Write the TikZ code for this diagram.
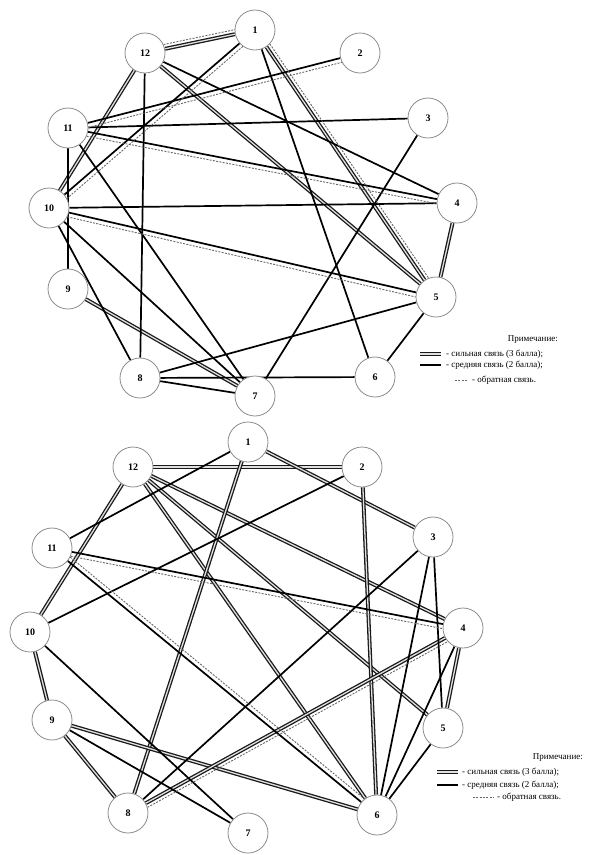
\documentclass[tikz,border=0pt]{standalone}
\usepackage{fontspec}
\setmainfont{Liberation Serif}
\usetikzlibrary{calc,backgrounds}
\newcommand\fbk[4]{\draw[fbline] ($(#1)!4.5pt!#3:(#2)$) -- ($(#2)!4.5pt!#4:(#1)$);}
\begin{document}
\begin{tikzpicture}[x=1pt,y=-1pt,
  vtx/.style={circle,draw=black!45,line width=0.8pt,fill=white,minimum size=40pt,inner sep=0pt,font=\fontsize{10}{10}\selectfont\bfseries},
  strong/.style={draw=black!90,line width=1.3pt,double=black!12,double distance=1.3pt},
  medium/.style={draw=black,line width=1.7pt},
  fbline/.style={draw=black!60,line width=0.9pt,dash pattern=on 2pt off 1.3pt},
  legtext/.style={font=\fontsize{9}{10}\selectfont,anchor=west,inner sep=0pt}
]
\useasboundingbox (0,0) rectangle (591,855);
% ---------- top graph nodes ----------
\node[vtx] (t1)  at (255,30)  {1};
\node[vtx] (t2)  at (360,53)  {2};
\node[vtx] (t3)  at (428,118) {3};
\node[vtx] (t4)  at (457,203) {4};
\node[vtx] (t5)  at (436,297) {5};
\node[vtx] (t6)  at (375,377) {6};
\node[vtx] (t7)  at (255,396) {7};
\node[vtx] (t8)  at (140,378) {8};
\node[vtx] (t9)  at (68,289)  {9};
\node[vtx] (t10) at (49,208)  {10};
\node[vtx] (t11) at (68,128)  {11};
\node[vtx] (t12) at (145,53)  {12};
% ---------- bottom graph nodes ----------
\node[vtx] (b1)  at (248,442) {1};
\node[vtx] (b2)  at (362,467) {2};
\node[vtx] (b3)  at (433,537) {3};
\node[vtx] (b4)  at (463,628) {4};
\node[vtx] (b5)  at (443,728) {5};
\node[vtx] (b6)  at (377,815) {6};
\node[vtx] (b7)  at (248,833) {7};
\node[vtx] (b8)  at (128,813) {8};
\node[vtx] (b9)  at (52,720)  {9};
\node[vtx] (b10) at (30,632)  {10};
\node[vtx] (b11) at (52,548)  {11};
\node[vtx] (b12) at (133,467) {12};
\begin{scope}[on background layer]
% top: strong
\foreach \a/\b in {t12/t1,t12/t10,t12/t5,t1/t5,t4/t5,t9/t7}
  \draw[strong] (\a) -- (\b);
% top: medium
\foreach \a/\b in {t12/t8,t12/t4,t1/t10,t1/t6,t11/t2,t11/t3,t11/t4,t11/t7,t11/t9,t10/t4,t10/t5,t10/t7,t10/t8,t3/t7,t8/t5,t8/t6,t8/t7,t5/t6}
  \draw[medium] (\a) -- (\b);
% top: feedback
\fbk{t12}{t1}{90}{-90}
\fbk{t1}{t10}{90}{-90}
\fbk{t1}{t5}{90}{-90}
\fbk{t11}{t2}{-90}{90}
\fbk{t11}{t4}{-90}{90}
\fbk{t10}{t5}{-90}{90}
% bottom: strong
\foreach \a/\b in {b12/b2,b12/b10,b12/b4,b12/b5,b12/b6,b1/b3,b1/b8,b2/b6,b10/b9,b9/b8,b9/b6,b8/b4,b4/b5}
  \draw[strong] (\a) -- (\b);
% bottom: medium
\foreach \a/\b in {b1/b11,b2/b10,b11/b4,b11/b6,b10/b7,b9/b7,b8/b3,b3/b6,b3/b5,b4/b6,b5/b6}
  \draw[medium] (\a) -- (\b);
% bottom: feedback
\fbk{b11}{b4}{-90}{90}
\fbk{b11}{b6}{90}{-90}
\fbk{b8}{b4}{-90}{90}
\end{scope}
% ---------- top legend ----------
\node[legtext,anchor=east] (tnote) at (558,340) {Примечание:};
\coordinate (tsa) at (420,354); \coordinate (tsb) at (441,354);
\draw[strong] (tsa) -- (tsb);
\node[legtext] (tl1) at (446,354) {- сильная связь (3 балла);};
\coordinate (tma) at (420,365); \coordinate (tmb) at (441,365);
\draw[medium] (tma) -- (tmb);
\node[legtext] (tl2) at (446,365) {- средняя связь (2 балла);};
\coordinate (tfa) at (455,380); \coordinate (tfb) at (468,380);
\draw[fbline] (tfa) -- (tfb);
\node[legtext] (tl3) at (472,380) {- обратная связь.};
% ---------- bottom legend ----------
\node[legtext,anchor=east] (bnote) at (583,758) {Примечание:};
\coordinate (bsa) at (437,772); \coordinate (bsb) at (458,772);
\draw[strong] (bsa) -- (bsb);
\node[legtext] (bl1) at (462,772) {- сильная связь (3 балла);};
\coordinate (bma) at (437,785); \coordinate (bmb) at (458,785);
\draw[medium] (bma) -- (bmb);
\node[legtext] (bl2) at (462,785) {- средняя связь (2 балла);};
\coordinate (bfa) at (473,797); \coordinate (bfb) at (493,797);
\draw[fbline] (bfa) -- (bfb);
\node[legtext] (bl3) at (497,797) {- обратная связь.};
\end{tikzpicture}
\end{document}
